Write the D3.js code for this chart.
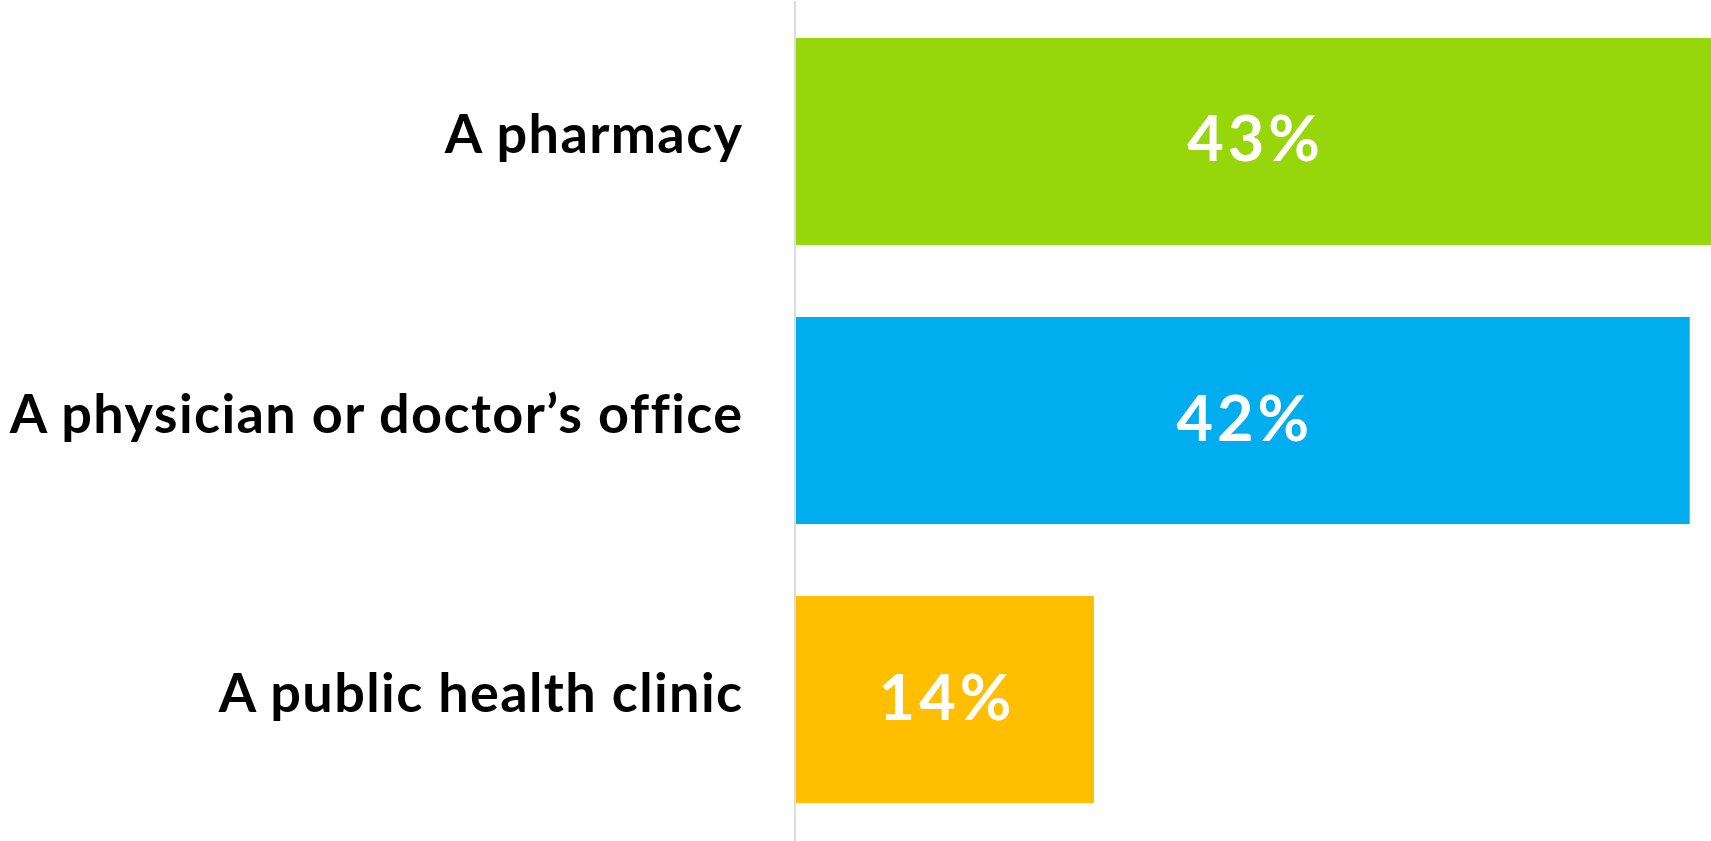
<!DOCTYPE html>
<html>
<head>
<meta charset="utf-8">
<script src="https://cdn.jsdelivr.net/npm/d3@7"></script>
<style>
  html, body { margin: 0; padding: 0; background: #fff; }
  svg { display: block; }
</style>
</head>
<body>
<svg width="1711" height="841"></svg>
<script>
const svg = d3.select('svg');
const width = +svg.attr('width');
const height = +svg.attr('height');

// data
const categories = ['A pharmacy', 'A physician or doctor\u2019s office', 'A public health clinic'];
const values = [43, 42, 14];
const colors = ['#97d60a', '#00aeef', '#ffbe00'];

const margin = { left: 796, right: 0 };

const x = d3.scaleLinear()
    .domain([0, 43])
    .range([margin.left, width - margin.right]);

const y = d3.scaleBand()
    .domain(categories)
    .range([0, height])
    .paddingInner(0.258)
    .paddingOuter(0.136);

const rows = categories.map((c, i) => ({ category: c, value: values[i], color: colors[i] }));

// bars
svg.selectAll('rect.bar').data(rows)
  .enter().append('rect')
    .attr('class', 'bar')
    .attr('x', x(0))
    .attr('y', d => y(d.category))
    .attr('width', d => x(d.value) - x(0))
    .attr('height', y.bandwidth())
    .attr('fill', d => d.color);

// vertical baseline
svg.append('line')
    .attr('x1', x(0) - 1).attr('x2', x(0) - 1)
    .attr('y1', 1).attr('y2', height)
    .attr('stroke', '#dcdcdc')
    .attr('stroke-width', 2);

// category labels
svg.selectAll('text.cat').data(rows)
  .enter().append('text')
    .attr('class', 'cat')
    .attr('x', 743.5)
    .attr('y', d => y(d.category) + y.bandwidth() / 2 + 12)
    .attr('text-anchor', 'end')
    .attr('font-family', 'Lato, sans-serif')
    .attr('font-weight', 700)
    .attr('font-size', 54)
    .attr('letter-spacing', 1.4)
    .attr('fill', '#000')
    .text(d => d.category);

// value labels
svg.selectAll('text.val').data(rows)
  .enter().append('text')
    .attr('class', 'val')
    .attr('x', d => (x(0) + x(d.value)) / 2 + 2)
    .attr('y', d => y(d.category) + y.bandwidth() / 2 + 20)
    .attr('text-anchor', 'middle')
    .attr('font-family', 'Lato, sans-serif')
    .attr('font-weight', 700)
    .attr('font-size', 63)
    .attr('letter-spacing', 4)
    .attr('fill', '#fff')
    .text(d => d.value + '%');
</script>
</body>
</html>
